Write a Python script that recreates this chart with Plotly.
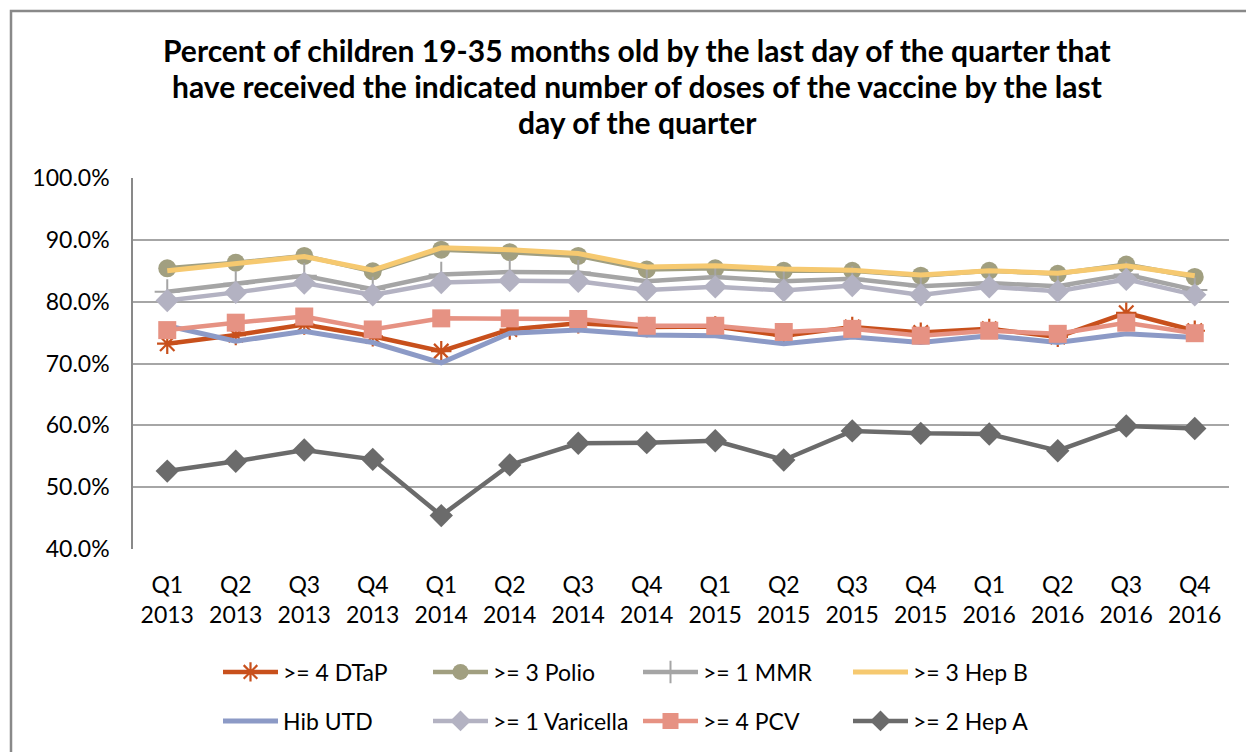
import plotly.graph_objects as go

categories = ["Q1<br>2013", "Q2<br>2013", "Q3<br>2013", "Q4<br>2013",
              "Q1<br>2014", "Q2<br>2014", "Q3<br>2014", "Q4<br>2014",
              "Q1<br>2015", "Q2<br>2015", "Q3<br>2015", "Q4<br>2015",
              "Q1<br>2016", "Q2<br>2016", "Q3<br>2016", "Q4<br>2016"]

dtap = [73.2, 74.6, 76.3, 74.4, 72.0, 75.5, 76.5, 75.9, 76.0, 74.5, 75.9, 75.0, 75.6, 74.3, 78.2, 75.3]
polio = [85.4, 86.3, 87.4, 84.9, 88.4, 88.0, 87.4, 85.2, 85.4, 85.0, 85.0, 84.2, 85.0, 84.5, 86.0, 84.0]
mmr = [81.6, 82.9, 84.2, 82.0, 84.4, 84.8, 84.7, 83.3, 84.0, 83.3, 83.7, 82.5, 83.0, 82.5, 84.4, 81.9]
hepb = [85.0, 86.1, 87.3, 85.1, 88.7, 88.4, 87.8, 85.6, 85.8, 85.3, 85.1, 84.3, 85.0, 84.6, 85.8, 84.2]
hib = [76.1, 73.6, 75.2, 73.4, 70.1, 74.9, 75.4, 74.6, 74.5, 73.2, 74.3, 73.4, 74.5, 73.4, 74.8, 74.2]
varicella = [80.2, 81.5, 83.0, 81.1, 83.1, 83.4, 83.3, 81.9, 82.4, 81.8, 82.6, 81.1, 82.4, 81.7, 83.6, 81.1]
pcv = [75.4, 76.6, 77.6, 75.5, 77.3, 77.3, 77.2, 76.1, 76.1, 75.1, 75.6, 74.5, 75.3, 74.8, 76.6, 74.9]
hepa = [52.6, 54.2, 56.0, 54.5, 45.4, 53.6, 57.1, 57.2, 57.5, 54.4, 59.1, 58.7, 58.6, 55.9, 59.9, 59.5]

series_names = [">= 4 DTaP", ">= 3 Polio", ">= 1 MMR", ">= 3 Hep B",
                "Hib UTD", ">= 1 Varicella", ">= 4 PCV", ">= 2 Hep A"]
y_ticks = [40, 50, 60, 70, 80, 90, 100]
y_tick_text = ["40.0%", "50.0%", "60.0%", "70.0%", "80.0%", "90.0%", "100.0%"]

FONT = "Lato, Carlito, Calibri, sans-serif"

styles = [
    dict(color="#C8501C", symbol="asterisk-open", size=17, lw=2.2, width=4.5, legend="legend"),
    dict(color="#A19F80", symbol="circle", size=18, lw=0, width=4.5, legend="legend"),
    dict(color="#A5A5A5", symbol="cross-thin-open", size=18, lw=2, width=4.5, legend="legend"),
    dict(color="#F6C970", symbol=None, size=0, lw=0, width=5, legend="legend"),
    dict(color="#8C9AC6", symbol=None, size=0, lw=0, width=5, legend="legend2"),
    dict(color="#B3B2C2", symbol="diamond", size=18, lw=0, width=4.5, legend="legend2"),
    dict(color="#E69283", symbol="square", size=18, lw=0, width=4.5, legend="legend2"),
    dict(color="#6B6B6B", symbol="diamond", size=18, lw=0, width=4.5, legend="legend2"),
]

data = [dtap, polio, mmr, hepb, hib, varicella, pcv, hepa]

fig = go.Figure()
for name, vals, st in zip(series_names, data, styles):
    if st["symbol"] is None:
        mode = "lines"
        marker = None
    else:
        mode = "lines+markers"
        marker = dict(symbol=st["symbol"], size=st["size"], color=st["color"],
                      line=dict(width=st["lw"], color=st["color"]))
    fig.add_trace(go.Scatter(
        x=list(range(len(categories))), y=vals, name=name, mode=mode,
        line=dict(color=st["color"], width=st["width"]),
        marker=marker, legend=st["legend"],
    ))

# page body has an 8px margin; work in screen pixels and shift
OFF = 8
W, H = 1254, 752
L, R, T, B = 133 - OFF, 1254 - (1229 - OFF), 178 - OFF, 752 - (549 - OFF)
pw = W - L - R
ph = H - T - B

def px_x(px):
    return (px - OFF - L) / pw

def px_y(py):
    return (H - B - (py - OFF)) / ph

title_lines = [
    "Percent of children 19-35 months old by the last day of the quarter that",
    "have received the indicated number of doses of the vaccine by the last",
    "day of the quarter",
]
title_y = [50, 86, 122]
annotations = []
for txt, ty in zip(title_lines, title_y):
    annotations.append(dict(
        text="<b>" + txt + "</b>", x=px_x(637), y=px_y(ty), xref="paper", yref="paper",
        xanchor="center", yanchor="middle", showarrow=False,
        font=dict(family=FONT, size=30, color="#000000"),
    ))

legend_common = dict(
    orientation="h", xanchor="left", yanchor="middle",
    font=dict(family=FONT, size=23, color="#000000"),
    entrywidth=140, entrywidthmode="pixels", itemwidth=55,
    bgcolor="rgba(0,0,0,0)", borderwidth=0, traceorder="normal",
)

fig.update_layout(
    width=W, height=H,
    margin=dict(l=L, r=R, t=T, b=B, autoexpand=False),
    paper_bgcolor="white", plot_bgcolor="white",
    annotations=annotations,
    showlegend=True,
    legend=dict(x=px_x(218), y=px_y(672), **legend_common),
    legend2=dict(x=px_x(218), y=px_y(721), **legend_common),
    xaxis=dict(
        tickmode="array", tickvals=list(range(len(categories))), ticktext=categories,
        range=[-0.5, len(categories) - 0.5],
        showgrid=False, zeroline=False, showline=False, ticks="",
        tickfont=dict(family=FONT, size=23, color="#000000"),
        ticklabelstandoff=20,
    ),
    yaxis=dict(
        range=[40, 100], tickmode="array", tickvals=y_ticks, ticktext=y_tick_text,
        showgrid=True, gridcolor="#A6A6A6", gridwidth=1.6,
        zeroline=False, showline=True, linecolor="#898989", linewidth=1.6,
        ticks="", tickfont=dict(family=FONT, size=23, color="#000000"),
        ticklabelstandoff=17,
    ),
    shapes=[dict(
        type="rect", xref="paper", yref="paper",
        x0=px_x(11), x1=px_x(1275), y0=px_y(780), y1=px_y(11),
        line=dict(color="#898989", width=2.5), fillcolor="rgba(0,0,0,0)", layer="above",
    )],
)

fig.write_html("out.html")
